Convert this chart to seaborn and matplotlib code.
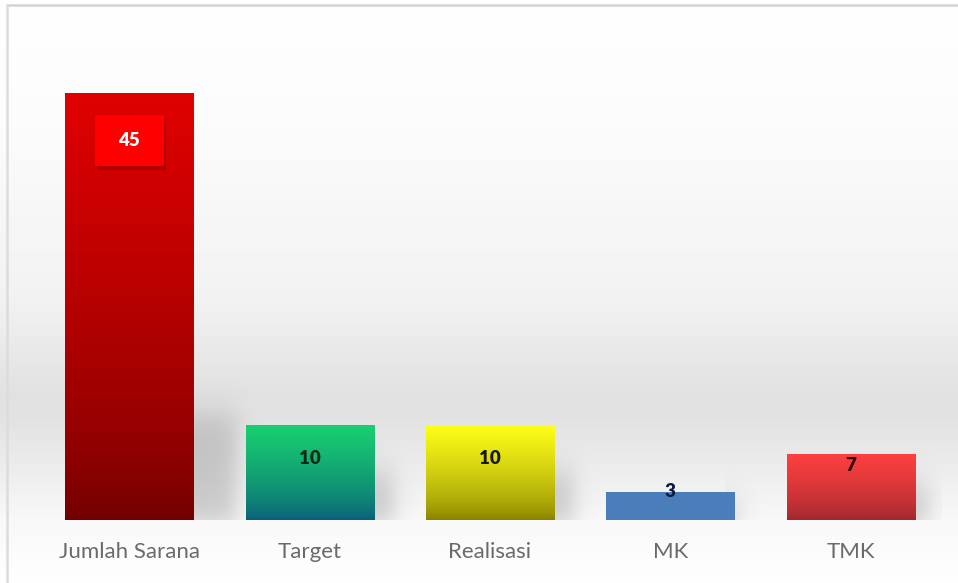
# Grafik sarana: Jumlah Sarana, Target, Realisasi, MK, TMK
import numpy as np
import pandas as pd
import seaborn as sb
from matplotlib import pyplot as plt
from matplotlib.colors import LinearSegmentedColormap
from matplotlib import patheffects as pe

# Data
kategori = ['Jumlah Sarana', 'Target', 'Realisasi', 'MK', 'TMK']
nilai = [45, 10, 10, 3, 7]

# Warna gradasi tiap batang (atas, bawah)
warna_atas = ['#e00000', '#18d070', '#ffff18', '#4a7ebb', '#ff4040']
warna_bawah = ['#700000', '#0a5c7a', '#858000', '#4a7ebb', '#9c2830']
warna_teks = ['white', '#0a2a18', '#1a1a00', '#0a1a40', '#3a0000']
geser_label = [-47, -33, -33, 0, -12]  # px dari puncak batang

df = pd.DataFrame({'kategori': kategori, 'nilai': nilai})

sb.set_theme(style='white')
plt.rcParams['font.family'] = ['Lato', 'DejaVu Sans']

fig = plt.figure(figsize=(9.58, 5.83), dpi=100)

# Latar belakang bergradasi
bg = fig.add_axes([0, 0, 1, 1], zorder=-1)
bg.set_axis_off()
yy = np.linspace(0, 1, 583)
g = np.interp(yy * 583, [0, 120, 300, 395, 420, 470, 520, 583],
              [1.0, 0.99, 0.95, 0.885, 0.89, 0.93, 0.975, 1.0])
img = np.repeat(g[:, None], 10, axis=1)
bg.imshow(np.dstack([img, img, img]), aspect='auto', extent=[0, 1, 1, 0])
bg.set_xlim(0, 1)
bg.set_ylim(1, 0)
bg.plot([6.5 / 958, 1], [4.5 / 583, 4.5 / 583], color='#d4d4d4', lw=1.8)
bg.plot([6.5 / 958, 6.5 / 958], [4.5 / 583, 1], color='#dcdcdc', lw=1.8)

ax = fig.add_axes([39 / 958, 63 / 583, 902 / 958, 474 / 583])
ax.patch.set_alpha(0)
sb.barplot(data=df, x='kategori', y='nilai', width=0.71, color='white',
           edgecolor='none', ax=ax)
ax.set_ylim(0, 50)
ax.set_xlim(-0.5, 4.5)

satuan_px = 50 / 474  # nilai per piksel


def sig(z):
    return 1 / (1 + np.exp(-z))


bars = list(ax.patches)
for i, bar in enumerate(bars):
    x0, y0 = bar.get_x(), bar.get_y()
    w, h = bar.get_width(), bar.get_height()
    # bayangan lembut di kanan batang
    hs = min(h * 0.5, 11)
    xr = x0 + w + hs * 0.022
    xs = np.linspace(x0 + w - 0.05, xr + 0.2, 120)
    ys = np.linspace(0, hs + 4, 120)
    X, Y = np.meshgrid(xs, ys)
    a = 0.32 * sig((xr - X) / 0.035) * sig((hs - Y) / 1.0) * (0.6 + 0.4 * sig((Y - 0.5) / 0.5))
    rgba = np.zeros((120, 120, 4))
    rgba[..., :3] = 0.45
    rgba[..., 3] = a
    ax.imshow(rgba, origin='lower', aspect='auto',
              extent=[xs[0], xs[-1], ys[0], ys[-1]], zorder=1)
    cmap = LinearSegmentedColormap.from_list('g%d' % i, [warna_bawah[i], warna_atas[i]])
    grad = (np.linspace(0, 1, 256) ** 0.7)[:, None]
    im = ax.imshow(grad, cmap=cmap, aspect='auto', origin='lower', vmin=0, vmax=1,
                   extent=[x0, x0 + w, y0, y0 + h], zorder=3)
    im.set_clip_path(bar)
    bar.set_zorder(2)

ax.set_xlim(-0.5, 4.5)
ax.set_ylim(0, 50)

# Label nilai
for i, v in enumerate(nilai):
    yl = v + geser_label[i] * satuan_px
    if i == 0:
        kotak = plt.Rectangle((i - 0.191, yl - 25.5 * satuan_px), 0.382, 51 * satuan_px,
                              color='#ff0000', lw=0, zorder=4,
                              path_effects=[pe.SimplePatchShadow(offset=(2, -3), alpha=0.25),
                                            pe.Normal()])
        ax.add_patch(kotak)
    ax.text(i, yl, str(v), ha='center', va='center', fontsize=13.5, fontweight='heavy',
            color=warna_teks[i], zorder=5)

ax.set_xlabel('')
ax.set_ylabel('')
ax.set_yticks([])
ax.tick_params(axis='x', length=0, pad=16, labelsize=16, labelcolor='#6a6a6a')
sb.despine(ax=ax, left=True, bottom=True)

plt.savefig('out.png', dpi=100)
plt.close()
